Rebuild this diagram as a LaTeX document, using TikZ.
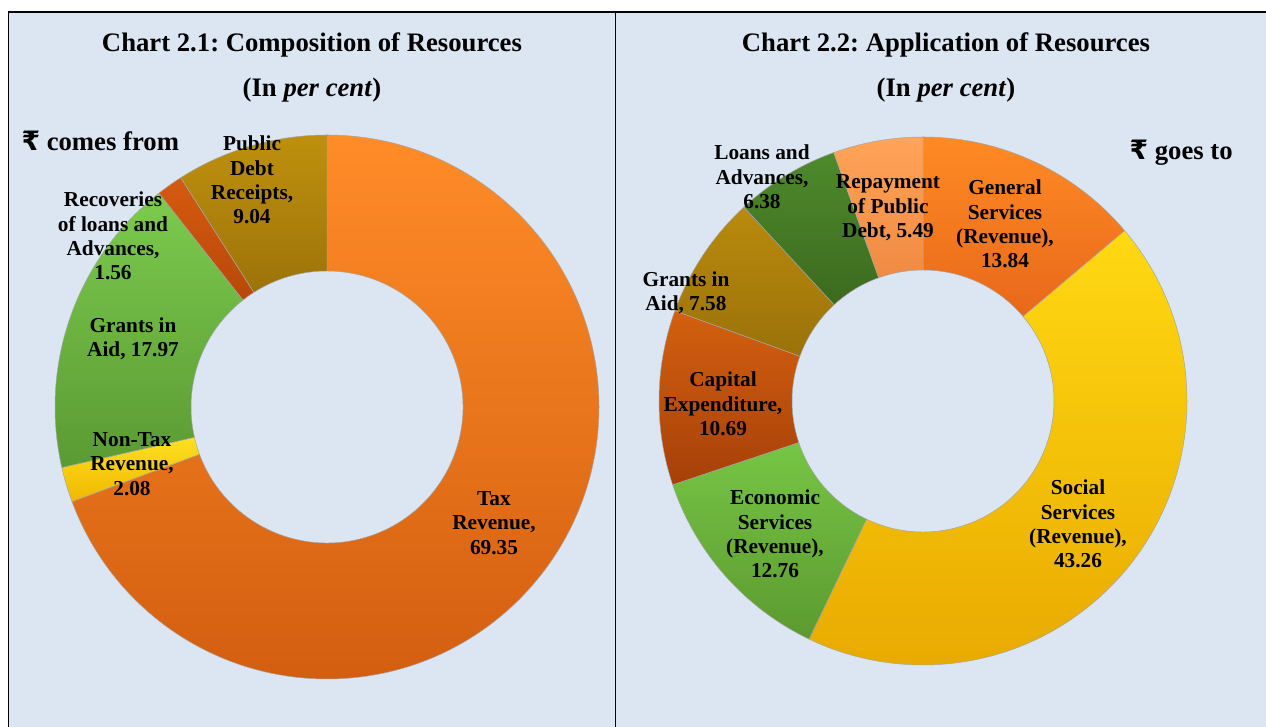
\documentclass[tikz,border=0pt]{standalone}
\usepackage{fontspec}
\setmainfont{Liberation Serif}
\newfontfamily\rupeefont{DejaVu Sans}
\definecolor{panelbg}{HTML}{DCE6F2}
\frenchspacing

\begin{document}
\begin{tikzpicture}[x=1pt,y=1pt,
  lbl/.style={align=center,font=\fontsize{21.3}{24.4}\selectfont\bfseries},
  ttl/.style={font=\fontsize{26.7}{30}\selectfont\bfseries},
  ring/.style={draw=black!35,line width=0.5pt}]
\useasboundingbox (0,0) rectangle (1266,727);
\fill[white] (0,0) rectangle (1266,727);
\fill[panelbg] (8,0) rectangle (1266,715);
\draw[line width=1.6pt] (8,715) -- (1266,715);
\draw[line width=1pt] (8,0) -- (8,715);
\draw[line width=1pt] (615,0) -- (615,715);

% Chart 2.1
\begin{scope}[shift={(327,320)}]
\path[ring,top color={rgb,255:red,255;green,140;blue,40},bottom color={rgb,255:red,211;green,94;blue,16}]
  (90:272) arc[start angle=90,end angle=-159.66,radius=272] -- (-159.66:136) arc[start angle=-159.66,end angle=90,radius=136] -- cycle;
\path[ring,top color={rgb,255:red,255;green,224;blue,32},bottom color={rgb,255:red,240;green,184;blue,0}]
  (-159.66:272) arc[start angle=-159.66,end angle=-167.15,radius=272] -- (-167.15:136) arc[start angle=-167.15,end angle=-159.66,radius=136] -- cycle;
\path[ring,top color={rgb,255:red,124;green,203;blue,78},bottom color={rgb,255:red,90;green,154;blue,51}]
  (-167.15:272) arc[start angle=-167.15,end angle=-231.84,radius=272] -- (-231.84:136) arc[start angle=-231.84,end angle=-167.15,radius=136] -- cycle;
\path[ring,top color={rgb,255:red,214;green,90;blue,16},bottom color={rgb,255:red,184;green,72;blue,8}]
  (-231.84:272) arc[start angle=-231.84,end angle=-237.46,radius=272] -- (-237.46:136) arc[start angle=-237.46,end angle=-231.84,radius=136] -- cycle;
\path[ring,top color={rgb,255:red,191;green,144;blue,14},bottom color={rgb,255:red,156;green,115;blue,8}]
  (-237.46:272) arc[start angle=-237.46,end angle=-270,radius=272] -- (-270:136) arc[start angle=-270,end angle=-237.46,radius=136] -- cycle;
\end{scope}
\node[ttl] (title1) at (312,682) {Chart 2.1: Composition of Resources};
\node[ttl] (unit1) at (312,637) {(In \textit{per cent})};
\node[ttl,anchor=west] (from) at (18,586) {{\rupeefont ₹} comes from};
\node[lbl] (pdr) at (252,547) {Public\\Debt\\Receipts,\\9.04};
\node[lbl] (recov) at (113,491) {Recoveries\\of loans and\\Advances,\\1.56};
\node[lbl] (grantsL) at (133,388) {Grants in\\Aid, 17.97};
\node[lbl] (nontax) at (132,263) {Non-Tax\\Revenue,\\2.08};
\node[lbl] (tax) at (494,204) {Tax\\Revenue,\\69.35};

% Chart 2.2
\begin{scope}[shift={(923,326)}]
\path[ring,top color={rgb,255:red,255;green,138;blue,36},bottom color={rgb,255:red,232;green,104;blue,26}]
  (90:264) arc[start angle=90,end angle=40.18,radius=264] -- (40.18:131) arc[start angle=40.18,end angle=90,radius=131] -- cycle;
\path[ring,top color={rgb,255:red,255;green,217;blue,18},bottom color={rgb,255:red,232;green,168;blue,0}]
  (40.18:264) arc[start angle=40.18,end angle=-115.56,radius=264] -- (-115.56:131) arc[start angle=-115.56,end angle=40.18,radius=131] -- cycle;
\path[ring,top color={rgb,255:red,118;green,197;blue,69},bottom color={rgb,255:red,92;green,154;blue,48}]
  (-115.56:264) arc[start angle=-115.56,end angle=-161.50,radius=264] -- (-161.50:131) arc[start angle=-161.50,end angle=-115.56,radius=131] -- cycle;
\path[ring,top color={rgb,255:red,212;green,96;blue,15},bottom color={rgb,255:red,166;green,64;blue,8}]
  (-161.50:264) arc[start angle=-161.50,end angle=-199.98,radius=264] -- (-199.98:131) arc[start angle=-199.98,end angle=-161.50,radius=131] -- cycle;
\path[ring,top color={rgb,255:red,185;green,138;blue,12},bottom color={rgb,255:red,154;green,114;blue,9}]
  (-199.98:264) arc[start angle=-199.98,end angle=-227.27,radius=264] -- (-227.27:131) arc[start angle=-227.27,end angle=-199.98,radius=131] -- cycle;
\path[ring,top color={rgb,255:red,78;green,138;blue,44},bottom color={rgb,255:red,60;green,106;blue,30}]
  (-227.27:264) arc[start angle=-227.27,end angle=-250.24,radius=264] -- (-250.24:131) arc[start angle=-250.24,end angle=-227.27,radius=131] -- cycle;
\path[ring,top color={rgb,255:red,255;green,164;blue,88},bottom color={rgb,255:red,240;green,138;blue,66}]
  (-250.24:264) arc[start angle=-250.24,end angle=-270,radius=264] -- (-270:131) arc[start angle=-270,end angle=-250.24,radius=131] -- cycle;
\end{scope}
\node[ttl] (title2) at (946,682) {Chart 2.2: Application of Resources};
\node[ttl] (unit2) at (946,637) {(In \textit{per cent})};
\node[ttl,anchor=west] (goesto) at (1126,574) {{\rupeefont ₹} goes to};
\node[lbl] (loans) at (762,550) {Loans and\\Advances,\\6.38};
\node[lbl] (repay) at (888,519) {Repayment\\of Public\\Debt, 5.49};
\node[lbl] (gen) at (1005,503) {General\\Services\\(Revenue),\\13.84};
\node[lbl] (grantsR) at (686,434) {Grants in\\Aid, 7.58};
\node[lbl] (capex) at (723,323) {Capital\\Expenditure,\\10.69};
\node[lbl] (econ) at (775,193) {Economic\\Services\\(Revenue),\\12.76};
\node[lbl] (social) at (1078,203) {Social\\Services\\(Revenue),\\43.26};
\end{tikzpicture}
\end{document}
